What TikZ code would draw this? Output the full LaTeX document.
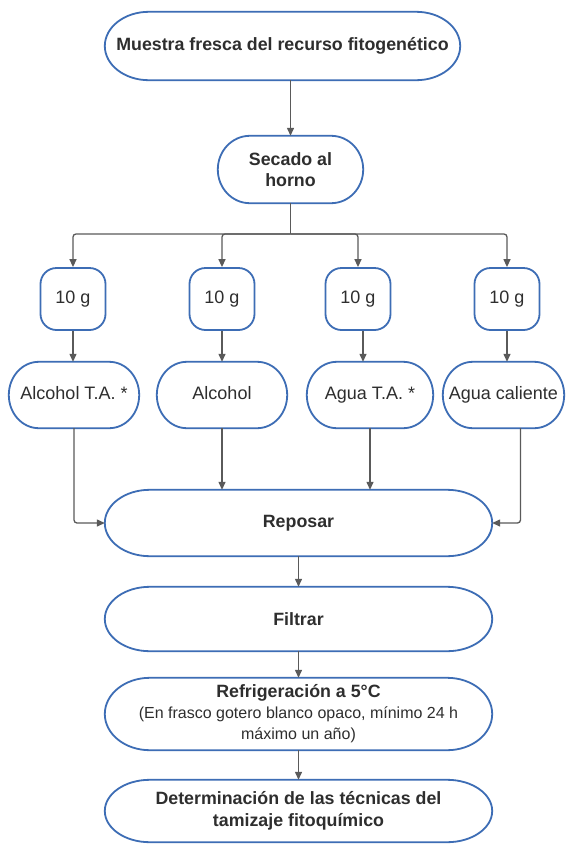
\documentclass[tikz,border=0pt]{standalone}
\usepackage{fontspec}
\setmainfont{Liberation Sans}
\usetikzlibrary{arrows.meta,calc}
\definecolor{bd}{HTML}{3D6DB5}
\definecolor{ar}{HTML}{5A5A5A}
\definecolor{tx}{HTML}{2E2E2E}
\tikzset{
  base/.style={inner sep=0pt, text=tx, align=center},
  big/.style={base, font=\fontsize{17.8}{21.5}\selectfont\bfseries},
  small/.style={base, font=\fontsize{18}{21}\selectfont, text height=13pt, text depth=3.8pt},
  conn/.style={draw=ar, line width=1.3pt, rounded corners=3pt, -{Triangle[length=8pt,width=7pt]}},
  plain/.style={draw=ar, line width=1.3pt},
  bord/.style={draw=bd, line width=1.8pt},
  gbox/.style={small, draw=bd, line width=1.8pt, rounded corners=16pt, minimum width=65pt, minimum height=62pt},
}
\newcommand\pillbox[2]{%
  \draw[bord] let \p1=(#1.north west), \p2=(#1.south east), \n1={(\y1-\y2)/2} in
    (\x1+#2,\y1) -- (\x2-#2,\y1)
    arc[start angle=90,end angle=-90,x radius=#2,y radius={\n1}]
    -- (\x1+#2,\y2)
    arc[start angle=270,end angle=90,x radius=#2,y radius={\n1}]
    -- cycle;}
\begin{document}
\begin{tikzpicture}[x=1pt,y=-1pt]
\fill[white] (0,0) rectangle (566,844);
\useasboundingbox (0,0) rectangle (566,844);

\node[big, minimum width=355pt, minimum height=68pt] (n1) at (282.5,46) {Muestra fresca del recurso fitogenético};
\node[big, minimum width=145pt, minimum height=67pt] (n2) at (290.5,169.5) {Secado al\\horno};

\node[gbox] (g1) at (73,299) {10 g};
\node[gbox] (g2) at (222,299) {10 g};
\node[gbox] (g3) at (358,299) {10 g};
\node[gbox] (g4) at (507,299) {10 g};

\node[small, minimum width=130pt, minimum height=66pt] (l1) at (74,395) {Alcohol T.A. *};
\node[small, minimum width=130pt, minimum height=66pt] (l2) at (222,395) {Alcohol};
\node[small, minimum width=126pt, minimum height=66pt] (l3) at (370,395) {Agua T.A. *};
\node[small, minimum width=121pt, minimum height=66pt] (l4) at (503.5,395) {Agua caliente};

\node[big, minimum width=387pt, minimum height=66pt] (rep) at (298.5,523) {Reposar};
\node[big, minimum width=387pt, minimum height=64pt] (fil) at (298.5,619) {Filtrar};
\node[big, minimum width=387pt, minimum height=72pt] (ref) at (298.5,714) {Refrigeración a 5°C\\[-1pt]{\mdseries\fontsize{16}{20}\selectfont (En frasco gotero blanco opaco, mínimo 24 h}\\{\mdseries\fontsize{16}{20}\selectfont máximo un año)}};
\node[big, minimum width=387pt, minimum height=62pt] (det) at (298.5,811) {Determinación de las técnicas del\\tamizaje fitoquímico};

\pillbox{n1}{44pt}
\pillbox{n2}{32pt}
\pillbox{l1}{30pt}
\pillbox{l2}{30pt}
\pillbox{l3}{30pt}
\pillbox{l4}{30pt}
\pillbox{rep}{45pt}
\pillbox{fil}{45pt}
\pillbox{ref}{45pt}
\pillbox{det}{45pt}

% connectors
\draw[conn] (n1.south -| n2.north) -- (n2.north);
\coordinate (br) at (290.5,234);
\draw[plain] (n2.south) -- (br);
\draw[conn] (br) -| (g1.north);
\draw[conn] (br) -| (g2.north);
\draw[conn] (br) -| (g3.north);
\draw[conn] (br) -| (g4.north);

\draw[conn] (g1.south) -- (g1.south |- l1.north);
\draw[conn] (g2.south) -- (g2.south |- l2.north);
\draw[conn] ([xshift=5pt]g3.south) -- ([xshift=5pt]g3.south |- l3.north);
\draw[conn] (g4.south) -- (g4.south |- l4.north);

\draw[conn] (l1.south) |- (rep.west);
\draw[conn] (l2.south) -- (l2.south |- rep.north);
\draw[conn] (l3.south) -- (l3.south |- rep.north);
\draw[conn] ([xshift=17pt]l4.south) |- (rep.east);

\draw[conn] (rep.south) -- (fil.north);
\draw[conn] (fil.south) -- (ref.north);
\draw[conn] (ref.south) -- (det.north);
\end{tikzpicture}
\end{document}
